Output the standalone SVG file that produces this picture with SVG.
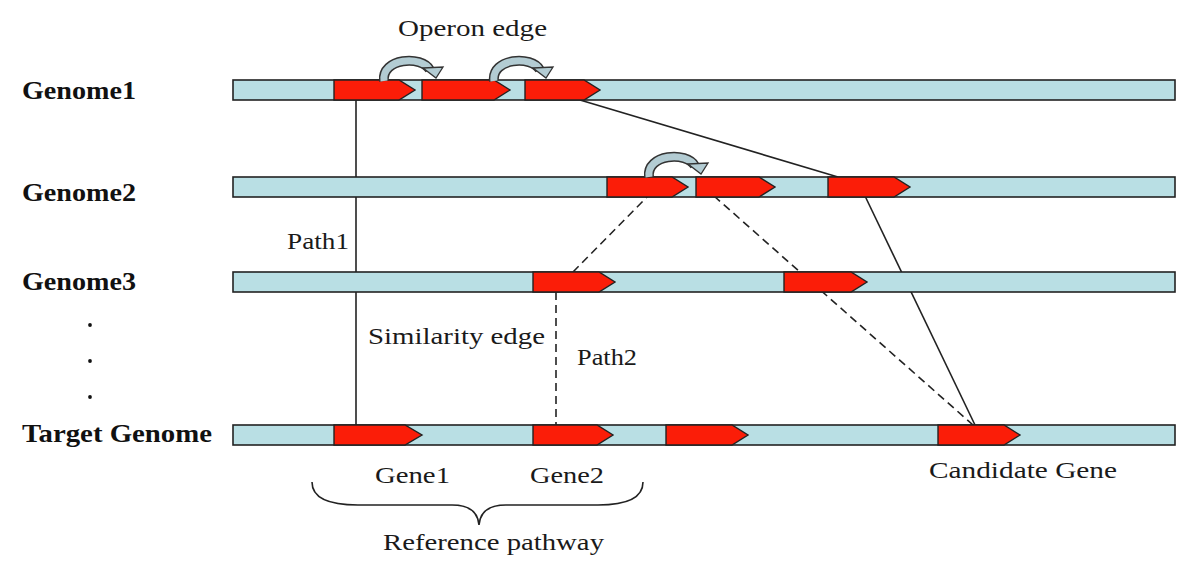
<svg xmlns="http://www.w3.org/2000/svg" xmlns:xlink="http://www.w3.org/1999/xlink" width="1200" height="579" viewBox="0 0 1200 579">
<style>
.bar{fill:#b9dfe4;stroke:#222;stroke-width:1.6}
.gene{fill:#fb1d08;stroke:#222;stroke-width:1.4}
.lbl{font-family:"Liberation Serif","Times New Roman",serif;font-weight:bold;font-size:25px;fill:#111}
.txt{font-family:"Liberation Serif","Times New Roman",serif;font-size:24px;fill:#1a1a1a}
.edge{stroke:#222;stroke-width:1.6;fill:none}
.dash{stroke-dasharray:8 5}
.arcO{stroke:#333;stroke-width:10;fill:none}
.arcI{stroke:#b3ccd3;stroke-width:7;fill:none}
.arcH{fill:#b3ccd3;stroke:#333;stroke-width:1.3}
</style>
<defs>
<g id="operon">
<path class="arcO" d="M384,81 C381,58 422,55 430,70"/>
<path class="arcI" d="M384,81 C381,58 422,55 430,70"/>
<polygon class="arcH" points="423,68 443,67 436,78"/>
</g>
</defs>
<rect width="1200" height="579" fill="#fff"/>

<g id="connectors">
<line class="edge" x1="356" y1="100" x2="356" y2="425"/>
<line class="edge" x1="580" y1="100" x2="838" y2="177"/>
<line class="edge" x1="865" y1="196" x2="975" y2="425"/>
<line class="edge dash" x1="573" y1="272" x2="648" y2="196"/>
<line class="edge dash" x1="556" y1="292" x2="556" y2="425"/>
<line class="edge dash" x1="714" y1="196" x2="973" y2="425"/>
</g>

<g id="genome1">
<rect class="bar" x="233" y="80" width="942" height="20"/>
<polygon class="gene" points="334,80 399,80 415,90 399,100 334,100"/>
<polygon class="gene" points="422,80 494,80 510,90 494,100 422,100"/>
<polygon class="gene" points="525,80 584,80 600,90 584,100 525,100"/>
<text class="lbl" x="22" y="99" textLength="114" lengthAdjust="spacingAndGlyphs">Genome1</text>
</g>
<g id="operon1"><use xlink:href="#operon"/></g>
<g id="operon2"><use xlink:href="#operon" transform="translate(110,0)"/></g>

<g id="genome2">
<rect class="bar" x="233" y="177" width="942" height="20"/>
<polygon class="gene" points="607,177 672,177 688,187 672,197 607,197"/>
<polygon class="gene" points="696,177 759,177 775,187 759,197 696,197"/>
<polygon class="gene" points="828,177 894,177 910,187 894,197 828,197"/>
<text class="lbl" x="22" y="201" textLength="114" lengthAdjust="spacingAndGlyphs">Genome2</text>
</g>
<g id="operon3"><use xlink:href="#operon" transform="translate(265,96)"/></g>

<g id="genome3">
<rect class="bar" x="233" y="272" width="942" height="20"/>
<polygon class="gene" points="533,272 599,272 615,282 599,292 533,292"/>
<polygon class="gene" points="784,272 851,272 867,282 851,292 784,292"/>
<text class="lbl" x="22" y="290" textLength="114" lengthAdjust="spacingAndGlyphs">Genome3</text>
</g>

<g id="dots" fill="#111">
<circle cx="90" cy="325" r="1.9"/>
<circle cx="90" cy="361" r="1.9"/>
<circle cx="90" cy="397" r="1.9"/>
</g>

<g id="target">
<rect class="bar" x="233" y="425" width="942" height="20"/>
<polygon class="gene" points="334,425 405,425 422,435 405,445 334,445"/>
<polygon class="gene" points="533,425 597,425 613,435 597,445 533,445"/>
<polygon class="gene" points="666,425 732,425 748,435 732,445 666,445"/>
<polygon class="gene" points="938,425 1004,425 1020,435 1004,445 938,445"/>
<text class="lbl" x="22" y="442" textLength="190" lengthAdjust="spacingAndGlyphs">Target Genome</text>
</g>

<g id="labels">
<text class="txt" x="398" y="36" textLength="149" lengthAdjust="spacingAndGlyphs">Operon edge</text>
<text class="txt" x="287" y="249" textLength="62" lengthAdjust="spacingAndGlyphs">Path1</text>
<text class="txt" x="368" y="344" textLength="177" lengthAdjust="spacingAndGlyphs">Similarity edge</text>
<text class="txt" x="577" y="365" textLength="60" lengthAdjust="spacingAndGlyphs">Path2</text>
<text class="txt" x="375" y="483" textLength="75" lengthAdjust="spacingAndGlyphs">Gene1</text>
<text class="txt" x="530" y="483" textLength="74" lengthAdjust="spacingAndGlyphs">Gene2</text>
<text class="txt" x="929" y="478" textLength="188" lengthAdjust="spacingAndGlyphs">Candidate Gene</text>
<text class="txt" x="383" y="550" textLength="221" lengthAdjust="spacingAndGlyphs">Reference pathway</text>
</g>

<g id="brace">
<path class="edge" d="M312,482 C312,498 328,505 358,505 L452,505 C470,505 478,512 479,525 C480,512 488,505 506,505 L598,505 C628,505 643,498 643,482"/>
</g>
</svg>
